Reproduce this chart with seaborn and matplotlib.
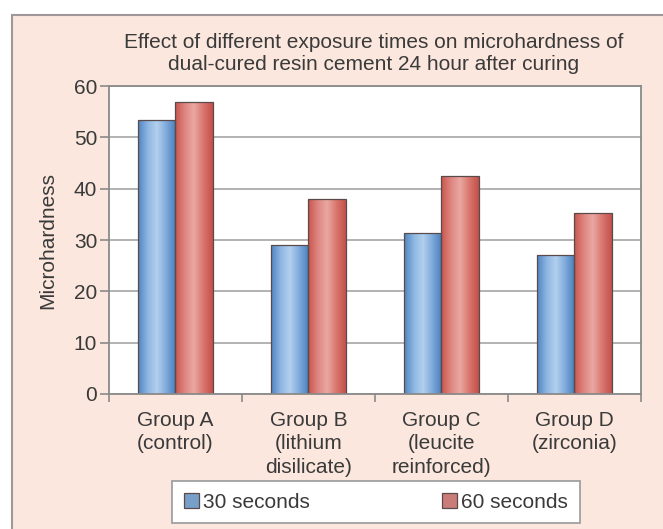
import numpy as np
import pandas as pd
import matplotlib
matplotlib.use("Agg")
import matplotlib.pyplot as plt
import seaborn as sns
from matplotlib.colors import LinearSegmentedColormap
from matplotlib.patches import Rectangle

groups = ["Group A\n(control)", "Group B\n(lithium\ndisilicate)",
          "Group C\n(leucite\nreinforced)", "Group D\n(zirconia)"]
times = ["30 seconds", "60 seconds"]
vals_30 = [53.4, 29.1, 31.3, 27.0]
vals_60 = [56.8, 38.0, 42.5, 35.2]
yticks = [0, 10, 20, 30, 40, 50, 60]

df = pd.DataFrame({
    "group": groups * 2,
    "time": [times[0]] * 4 + [times[1]] * 4,
    "value": vals_30 + vals_60,
})

sns.set_theme(style="white")
plt.rcParams["font.family"] = ["Liberation Sans", "DejaVu Sans"]
txt = "#3a3a3a"

fig = plt.figure(figsize=(6.63, 5.29), dpi=100, facecolor="white")
# pink panel behind everything
fig.patches.append(Rectangle((12 / 663, -0.01), 1.0, (529 - 15) / 529 + 0.01,
                             transform=fig.transFigure, facecolor="#fbe7dd",
                             edgecolor="#a09898", lw=1.5, zorder=-10))

ax = fig.add_axes([0.1644, 0.2552, 0.8024, 0.5822])
ax.set_facecolor("white")
sns.barplot(data=df, x="group", y="value", hue="time",
            palette=["#6a9fd6", "#d8706a"], width=0.57, gap=0,
            edgecolor="#5a4a4a", linewidth=0.9, ax=ax)

# gradient fill on each bar
cmaps = [
    LinearSegmentedColormap.from_list("b", ["#4f85c2", "#8db6e2", "#b3d0ee", "#7eaadb", "#4a7fbd"]),
    LinearSegmentedColormap.from_list("r", ["#c9554e", "#de8580", "#eaa8a2", "#d9766f", "#c4514b"]),
]
grad = np.linspace(0, 1, 64).reshape(1, -1)
for cont, cm in zip(ax.containers, cmaps):
    for bar in cont:
        x0, y0 = bar.get_x(), bar.get_y()
        w, h = bar.get_width(), bar.get_height()
        im = ax.imshow(grad, cmap=cm, aspect="auto", extent=[x0, x0 + w, y0, y0 + h],
                       zorder=1.5, interpolation="bicubic")
        im.set_clip_path(bar)
        bar.set_facecolor("none")
        bar.set_zorder(2)

ax.set_xlim(-0.5, 3.5)
ax.set_ylim(0, 60)
ax.set_yticks(yticks)
ax.set_axisbelow(True)
ax.yaxis.grid(True, color="#acacac", lw=1.3)

for s in ax.spines.values():
    s.set_color("#8a8a8a")
    s.set_linewidth(1.3)

ax.tick_params(axis="y", left=True, length=6.5, width=1.2, color="#8a8a8a",
               labelsize=15, labelcolor=txt, pad=2)
ax.tick_params(axis="x", which="major", length=0, labelsize=15, labelcolor=txt, pad=12)
for t in ax.get_xticklabels():
    t.set_linespacing(1.3)
ax.set_xticks(np.arange(-0.5, 4, 1), minor=True)
ax.tick_params(axis="x", which="minor", bottom=True, length=6, width=1.2,
               color="#8a8a8a", direction="out")

ax.set_xlabel("")
ax.set_ylabel("Microhardness", fontsize=15, color=txt)
ax.yaxis.set_label_coords(-0.098, 0.5)

fig.text(0.563, 1 - 54 / 529,
         "Effect of different exposure times on microhardness of\n"
         "dual-cured resin cement 24 hour after curing",
         ha="center", va="center", fontsize=15, color=txt, linespacing=1.2)

handles, labels = ax.get_legend_handles_labels()
ax.legend_.remove()
leg = fig.legend(handles, labels, loc="center", bbox_to_anchor=(0.567, 0.051),
                 ncol=2, columnspacing=6.3, handlelength=0.75, handleheight=0.75,
                 handletextpad=0.2, fontsize=15, frameon=True, fancybox=False,
                 edgecolor="#9a9a9a", facecolor="white", framealpha=1,
                 borderpad=0.55)
for t in leg.get_texts():
    t.set_color(txt)
leg.get_frame().set_linewidth(1.2)

fig.savefig("out.png", dpi=100, facecolor=fig.get_facecolor())
